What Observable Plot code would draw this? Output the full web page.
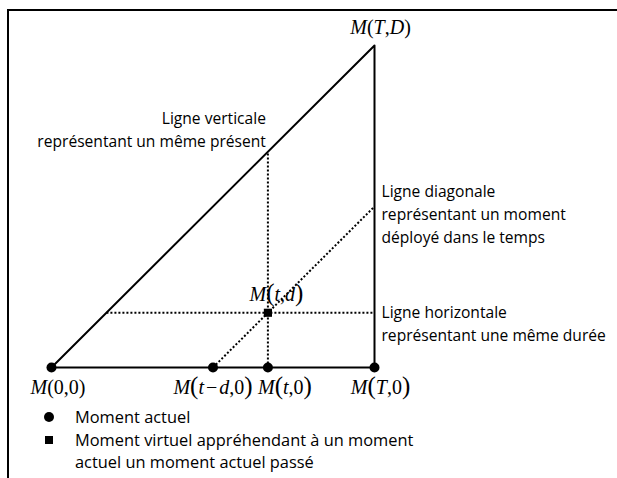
<!DOCTYPE html>
<html><head><meta charset="utf-8">
<script src="https://cdn.jsdelivr.net/npm/d3@7"></script>
<script src="https://cdn.jsdelivr.net/npm/@observablehq/plot@0.6"></script>
<style>
body{margin:0;background:#fff;}
#wrap{position:relative;width:617px;height:478px;overflow:hidden;background:#fff;}
#frame{position:absolute;left:7px;top:9px;width:620px;height:480px;border-top:2px solid #000;border-left:2px solid #000;z-index:2;pointer-events:none;}
#chart{position:absolute;left:0;top:0;z-index:1;}
#legend{position:absolute;left:0;top:0;z-index:1;font-family:"Open Sans";font-size:16.4px;color:#000;}
.lg-mark{position:absolute;background:#000;}
.lg-text{position:absolute;white-space:pre;line-height:22.5px;}
</style></head><body>
<div id="wrap"><div id="frame"></div><div id="chart"></div><div id="legend"></div></div>
<script>
// Parameters of the diagram (data units)
const T = 10, D = 10;
const t = 6.7, d = 1.7;

// Triangle of moments
const triangleX = [0, T, T, 0];
const triangleY = [0, D, 0, 0];

// Current moments (circles) on the baseline
const momentLabels = ["M(0,0)", "M(t−d,0)", "M(t,0)", "M(T,0)"];
const momentX = [0, t - d, t, T];
const momentY = [0, 0, 0, 0];

// Virtual moment (square)
const virtualLabel = "M(t,d)";
const virtualX = [t];
const virtualY = [d];

// Apex
const apexLabel = "M(T,D)";

// Dotted lines: vertical, horizontal, diagonal
const dottedX1 = [t, d, t - d];
const dottedY1 = [0, d, 0];
const dottedX2 = [t, T, T];
const dottedY2 = [t, d, T - (t - d)];

// Annotations
const noteVertical = "Ligne verticale\nreprésentant un même présent";
const noteDiagonal = "Ligne diagonale\nreprésentant un moment\ndéployé dans le temps";
const noteHorizontal = "Ligne horizontale\nreprésentant une même durée";

// Legend
const legendSymbols = ["circle", "square"];
const legendLabels = ["Moment actuel", "Moment virtuel appréhendant à un moment\nactuel un moment actuel passé"];

const triangle = triangleX.map((x, i) => ({x, y: triangleY[i]}));
const moments = momentLabels.map((label, i) => ({label, x: momentX[i], y: momentY[i]}));
const virtual = [{label: virtualLabel, x: virtualX[0], y: virtualY[0]}];
const apex = [{label: apexLabel, x: T, y: D}];
const dotted = dottedX1.map((x1, i) => ({x1, y1: dottedY1[i], x2: dottedX2[i], y2: dottedY2[i]}));

const serif = "Liberation Serif";
const sans = "Open Sans";
const noteSize = 15.6;
const noteLH = 23 / noteSize;

const mathOpts = {x: "x", y: "y", text: "label", fontSize: 20, fontFamily: serif, fill: "#000"};
const bigParenLabels = ["M(t−d,0)", "M(t,0)", "M(T,0)", "M(t,d)"];
const smallParenLabels = ["M(0,0)", "M(T,D)"];

const plot = Plot.plot({
  width: 617,
  height: 400,
  marginLeft: 51,
  marginRight: 243,
  marginTop: 45,
  marginBottom: 33,
  style: {background: "transparent", overflow: "visible"},
  x: {domain: [0, T], axis: null},
  y: {domain: [0, D], axis: null},
  marks: [
    Plot.link(dotted, {x1: "x1", y1: "y1", x2: "x2", y2: "y2", stroke: "#000", strokeWidth: 2, strokeDasharray: "2,2"}),
    Plot.line(triangle, {x: "x", y: "y", stroke: "#000", strokeWidth: 2}),
    Plot.dot(moments, {x: "x", y: "y", r: 5, fill: "#000", symbol: "circle"}),
    Plot.dot(virtual, {x: "x", y: "y", r: 4.6, fill: "#000", symbol: "square"}),
    // math labels
    Plot.text(moments.filter(m => m.label === "M(0,0)"), {...mathOpts, dx: 6.5, dy: 20}),
    Plot.text(apex, {...mathOpts, dx: 6, dy: -18}),
    Plot.text(moments.filter(m => m.label === "M(t−d,0)"), {...mathOpts, dx: 0, dy: 20}),
    Plot.text(moments.filter(m => m.label === "M(t,0)"), {...mathOpts, dx: 17, dy: 20}),
    Plot.text(moments.filter(m => m.label === "M(T,0)"), {...mathOpts, dx: 6, dy: 20}),
    Plot.text(virtual, {...mathOpts, dx: 8.5, dy: -18}),
    // annotations
    Plot.text([{x: t, y: t}], {x: "x", y: "y", text: [noteVertical], textAnchor: "end", dx: -2, dy: -24, fontSize: noteSize, fontFamily: sans, lineHeight: noteLH, fill: "#000"}),
    Plot.text([{x: T, y: T - (t - d)}], {x: "x", y: "y", text: [noteDiagonal], textAnchor: "start", dx: 7, dy: 6, fontSize: noteSize, fontFamily: sans, lineHeight: noteLH, fill: "#000"}),
    Plot.text([{x: T, y: d}], {x: "x", y: "y", text: [noteHorizontal], textAnchor: "start", dx: 7, dy: 9, fontSize: noteSize, fontFamily: sans, lineHeight: noteLH, fill: "#000"})
  ]
});

document.getElementById("chart").appendChild(plot);

function styleMath(el, big) {
  const s = el.textContent;
  while (el.firstChild) el.removeChild(el.firstChild);
  for (const ch of s) {
    const ts = document.createElementNS("http://www.w3.org/2000/svg", "tspan");
    if ("MTDtd".includes(ch)) ts.setAttribute("font-style", "italic");
    if (big && "()".includes(ch)) ts.setAttribute("font-size", "1.25em");
    if (ch === "−") { ts.setAttribute("dx", "2"); }
    if (ch === "d" && s.includes("−")) { ts.setAttribute("dx", "2"); }
    ts.textContent = ch;
    el.appendChild(ts);
  }
}
plot.querySelectorAll("text").forEach(el => {
  const s = el.textContent;
  if (bigParenLabels.includes(s)) {
    styleMath(el, true);
    if (s === virtualLabel) {
      // faint frame around the M(t,d) label, as in the original figure
      const b = el.getBBox();
      const r = document.createElementNS("http://www.w3.org/2000/svg", "rect");
      r.setAttribute("x", b.x - 3);
      r.setAttribute("y", b.y);
      r.setAttribute("width", b.width + 12);
      r.setAttribute("height", b.height);
      r.setAttribute("fill", "rgba(255,255,255,0.55)");
      r.setAttribute("stroke", "#d6d6d6");
      r.setAttribute("stroke-width", "1");
      el.parentNode.insertBefore(r, el);
    }
  } else if (smallParenLabels.includes(s)) {
    styleMath(el, false);
  }
});

// Legend (HTML, below the plot area)
const legend = document.getElementById("legend");
const legendTop = [417, 440];
legendSymbols.forEach((sym, i) => {
  const m = document.createElement("div");
  m.className = "lg-mark";
  const size = sym === "circle" ? 10 : 8;
  m.style.width = size + "px";
  m.style.height = size + "px";
  m.style.left = (49 - size / 2) + "px";
  m.style.top = (legendTop[i] - size / 2) + "px";
  if (sym === "circle") m.style.borderRadius = "50%";
  legend.appendChild(m);
  const tx = document.createElement("div");
  tx.className = "lg-text";
  tx.textContent = legendLabels[i];
  tx.style.left = "75px";
  tx.style.top = (legendTop[i] - 11.5) + "px";
  legend.appendChild(tx);
});
</script>
</body></html>
